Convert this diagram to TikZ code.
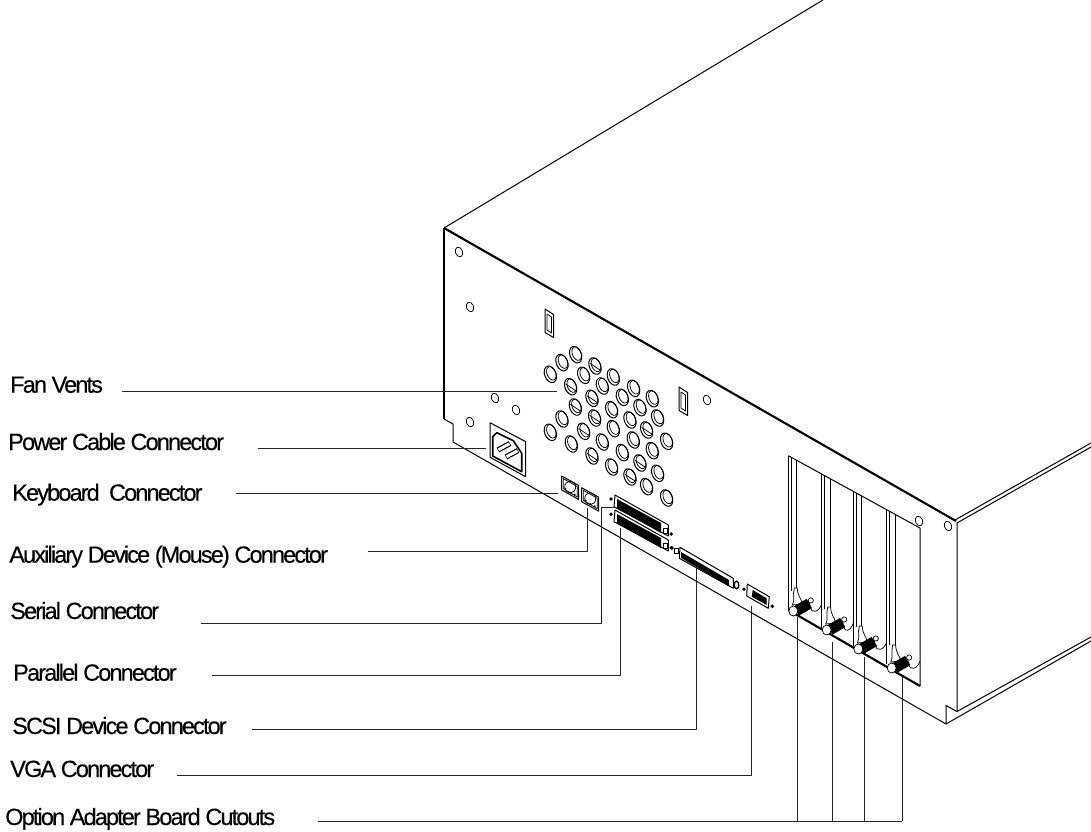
\documentclass[tikz,border=0pt]{standalone}
\usepackage{fontspec}
\setmainfont[LetterSpace=-7.9,FakeBold=0.2]{Liberation Sans}
\usepackage{amsmath}
\usepackage{tikz}
\def \Vent{circle [x radius=17, y radius=26, rotate=22]}
\def \VentIn{circle [x radius=13, y radius=21, rotate=22]}
\def \Hole{circle [x radius=3.6, y radius=5, rotate=22]}
\def \Dot{circle (1.9)}
\tikzset{
	callout/.style={anchor=base west,inner sep=0pt,font=\fontsize{17.6pt}{19pt}\selectfont},
	leader/.style={line width=0.7pt,black!85},
	case/.style={line width=0.75pt},
	heavy/.style={line width=1.6pt},
	fine/.style={line width=0.55pt}
}

\begin{document}
\begin{tikzpicture}[x=0.75pt,y=-0.75pt,line join=round]
\useasboundingbox (0,0) rectangle (1091,831);
\fill[white] (0,0) rectangle (1091,831);
% case outline
\draw[case] (444,228) -- (823,0);
\draw[heavy] (444,228) -- (444,419);
\draw[heavy] (444,228) -- (956,521);
\draw[case] (444,419) -- (453,424) -- (453,442) -- (946,724) -- (946,705.5) -- (957,711.5);
\draw[case] (955,520) -- (1091,443);
\draw[case] (957,523) -- (1091,447);
\draw[case] (957,522) -- (957,711.5) -- (1091,637);
\draw[case] (946,724) -- (1091,641);
% screw holes
\foreach \x/\y in {459/252,470/307,495/398,516/410,470/422,707/400,919/521,948/526}
	\draw[fine] (\x,\y) \Hole;
% latches
\foreach \x/\y in {545/309,679/387}{
	\scope[shift={(\x,\y)}]
		\draw[case] (0,0) -- (8.5,5.5) -- (8.5,28.5) -- (0,23.5) -- cycle;
		\draw[fine] (2,5) -- (6.5,8) -- (6.5,24) -- (2,21) -- cycle;
	\endscope
}
% fan vents
\scope[shift={(440,220)},scale=0.3333]
	\foreach \x/\y in {407/404,366/428,331/463,465/438,431/466,392/500,520/471,487/498,
		456/535,406/561,581/505,547/532,515/569,464/594,366/597,331/637,637/536,600/563,
		570/600,520/626,431/634,394/672,487/666,456/708,653/594,620/630,580/660,547/698,
		515/741,680/664,637/692,600/729,570/771,653/760,620/800,680/834}{
		\draw[case] (\x,\y) \Vent;
		\draw[fine] (\x+3,\y-3) \VentIn;
	}
	\foreach \x/\y in {392/500,456/535,465/438,406/561,464/594,431/634,620/630,600/729,570/771,456/708}
		\draw[fine] (\x-15,\y-8) -- (\x+15,\y+12);
\endscope
% power socket
\draw[case] (490,422.7) -- (525.7,441.7) -- (525.7,476.7) -- (490,457.3) -- cycle;
\draw[line width=1.2pt] (492.7,436.7) -- (496.7,432.7) -- (513.3,440.7) -- (521.7,453.3) -- (521.7,471.7) -- (492.7,456) -- cycle;
\draw[line width=4pt] (498,450) -- (510,443.5);
\draw[white,line width=2.2pt] (498.5,449.7) -- (509.5,443.8);
\draw[line width=4pt] (506,457) -- (518,450.5);
\draw[white,line width=2.2pt] (506.5,456.7) -- (517.5,450.8);
% keyboard and mouse
\foreach \x/\y in {561.7/476,581.7/487.7}{
	\scope[shift={(\x,\y)}]
		\draw[case] (0,0) -- (17,9.5) -- (17,23.5) -- (0,14) -- cycle;
		\draw[fine] (1.5,2.5) -- (15.5,10.5) -- (15.5,21) -- (1.5,12.5) -- cycle;
		\draw[fine] (8.5,11) circle [x radius=5.5, y radius=6];
		\fill (4,13) circle (1) (13,18.5) circle (1) (8.5,16.5) circle (1);
	\endscope
}
% serial and parallel
\foreach \y in {495,510}{
	\scope[shift={(614,\y)}]
		\draw[case] (1,0) -- (54.3,30) -- (54.3,41) -- (0,11.7) -- cycle;
		\fill (3,4) -- (47,28) -- (47,38) -- (3,13) -- cycle;
		\draw[fine] (49,33) rectangle (53,38);
	\endscope
}
\fill (611,499) \Dot (611,514.3) \Dot (671.3,534) \Dot (671.3,547.7) \Dot;
% scsi
\draw[case] (680,547.3) -- (733.3,578.3) -- (733.3,588.3) -- (679.3,558.3) -- cycle;
\fill (681,552) -- (729,580) -- (729,586) -- (681,558) -- cycle;
\draw[case] (674.5,548) rectangle (678,553.5);
\draw[line width=1pt] (736.5,585) circle [x radius=2.3, y radius=3.8];
\fill (672,548) \Dot;
% vga
\draw[case] (747.3,584) -- (769.3,596.7) -- (768.3,608.3) -- (746.7,596) -- cycle;
\fill (752.7,590) -- (766.7,598.3) -- (766.7,605) -- (751.7,596.7) -- cycle;
\fill (744,589.3) \Dot (772.3,606.3) \Dot;
% cutouts
\draw[case] (788.3,455.7) -- (920,528) -- (920,686);
\draw[heavy] (788.3,610) -- (920,686);
\foreach \n/\x/\y in {1/788.3/455.7,2/821.7/474,3/853.3/491.6,4/886.7/510}{
	\scope[shift={(\x,\y)}]
		\draw[case] (0,0) -- (0,154);
		\draw[fine] (2.8,1.5) -- (2.8,135);
		\draw[fine] (8.3,4.5) -- (8.3,135);
	\endscope
}
\foreach \x/\y/\w in {788.3/610/33.4,821.7/629/31.6,853.3/648/33.4,886.7/667/33.3}{
	\scope[shift={(\x,\y)}]
		\draw[fine] (21,-7) -- (22,-2) .. controls (23,3) and (\w-3,3) .. (\w,-6); % bracket
		\draw[fine,fill=white] (6,-22) -- (9,-22) .. controls (9,-14) and (13,-12) .. (14,-6)
			-- (4,-5) .. controls (7,-10) and (4,-15) .. (6,-22) -- cycle; % fin
		\draw[fine,fill=white] (22.5,-9.5) circle (2.6);
		\draw[line width=8pt] (8,1) -- (21,-6.5);
		\draw[fine,fill=white] (5,1) circle [x radius=4.5, y radius=5];
	\endscope
}
% labels
\node[callout] (fan) at (10,392.7) {Fan Vents};
\node[callout] (power) at (8,450) {Power Cable Connector};
\node[callout] (keyboard) at (12,500.7) {Keyboard\ \ Connector};
\node[callout] (mouse) at (9,562.7) {Auxiliary Device (Mouse) Connector};
\node[callout] (serial) at (10,619) {Serial Connector};
\node[callout] (parallel) at (13,680.7) {Parallel Connector};
\node[callout] (scsi) at (12,734) {SCSI Device Connector};
\node[callout] (vga) at (10,777) {VGA Connector};
\node[callout] (option) at (5,825) {Option Adapter Board Cutouts};
% leader ends
\coordinate (fanEnd) at (556.7,391);
\coordinate (powerEnd) at (486,448);
\coordinate (keyboardEnd) at (558,493);
\coordinate (mouseBend) at (587,551.7);
\coordinate (mouseEnd) at (587,508);
\coordinate (serialBend) at (601,623);
\coordinate (serialUp) at (601,507);
\coordinate (serialEnd) at (614,507);
\coordinate (parallelBend) at (620,675);
\coordinate (parallelEnd) at (620,528);
\coordinate (scsiBend) at (696.7,729);
\coordinate (scsiEnd) at (696.7,568);
\coordinate (vgaBend) at (751,775);
\coordinate (vgaEnd) at (751,606);
\coordinate (optionBus) at (902,821);
\draw[leader] ([xshift=14pt]fan.base east |- fanEnd) -- (fanEnd);
\draw[leader] ([xshift=25pt]power.base east |- powerEnd) -- (powerEnd);
\draw[leader] ([xshift=25pt]keyboard.base east |- keyboardEnd) -- (keyboardEnd);
\draw[leader] ([xshift=30pt]mouse.base east |- mouseBend) -- (mouseBend) -- (mouseEnd);
\draw[leader] ([xshift=31pt]serial.base east |- serialBend) -- (serialBend) -- (serialUp) -- (serialEnd);
\draw[leader] ([xshift=26pt]parallel.base east |- parallelBend) -- (parallelBend) -- (parallelEnd);
\draw[leader] ([xshift=19pt]scsi.base east |- scsiBend) -- (scsiBend) -- (scsiEnd);
\draw[leader] ([xshift=17pt]vga.base east |- vgaBend) -- (vgaBend) -- (vgaEnd);
\draw[leader] ([xshift=32pt]option.base east |- optionBus) -- (optionBus);
\foreach \n/\x/\y in {1/797.7/617,2/832/642,3/864/657,4/902/677}{
	\coordinate (screw\n) at (\x,\y);
	\draw[leader] (screw\n) -- (screw\n |- optionBus);
}
\end{tikzpicture}
\end{document}
